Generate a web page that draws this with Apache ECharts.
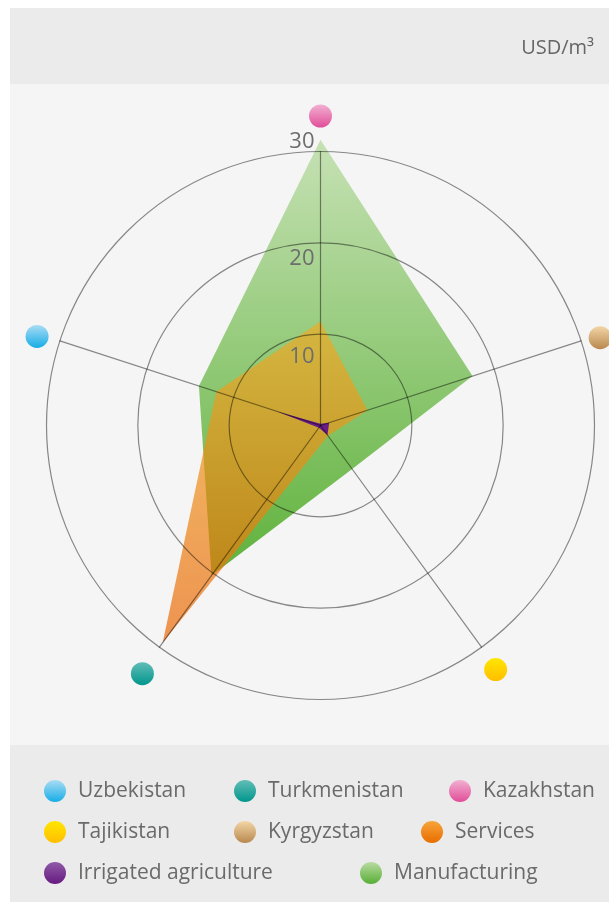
<!DOCTYPE html>
<html>
<head>
<meta charset="utf-8">
<title>USD/m³</title>
<script src="https://cdn.jsdelivr.net/npm/echarts@6/dist/echarts.min.js"></script>
<style>
    html, body { margin: 0; padding: 0; background: #ffffff; }
    #wrap { position: relative; width: 609px; height: 902px; }
    .band { position: absolute; left: 10px; width: 599px; }
    #bandTop { top: 8px; height: 76px; background: #ebebeb; }
    #bandMid { top: 84px; height: 661px; background: #f5f5f5; }
    #bandBot { top: 745px; height: 157px; background: #ebebeb; }
    #chart { position: absolute; left: 0; top: 0; width: 609px; height: 902px; }
</style>
</head>
<body>
<div id="wrap">
    <div class="band" id="bandTop"></div>
    <div class="band" id="bandMid"></div>
    <div class="band" id="bandBot"></div>
    <div id="chart"></div>
</div>
<script>
// 指标（从顶部开始逆时针）
const countries = ['Kazakhstan', 'Uzbekistan', 'Turkmenistan', 'Tajikistan', 'Kyrgyzstan'];
const axisMax = 30;
const axisTicks = [10, 20, 30];

// 各部门用水产值 USD/m³
const manufacturing = [31.3, 14.0, 20.3, 5.9, 17.5];
const services = [11.4, 12.0, 29.4, 1.4, 5.4];
const irrigatedAgriculture = [0.2, 5.0, 0.3, 1.3, 1.0];

// 图例顺序
const legendNames = ['Uzbekistan', 'Turkmenistan', 'Kazakhstan', 'Tajikistan', 'Kyrgyzstan', 'Services', 'Irrigated agriculture', 'Manufacturing'];

const FONT = '"Open Sans", "Noto Sans", sans-serif';

function vGrad(top, bottom) {
    return {
        type: 'linear', x: 0, y: 0, x2: 0, y2: 1,
        colorStops: [
            { offset: 0, color: top },
            { offset: 1, color: bottom }
        ]
    };
}

const dotColors = {
    'Uzbekistan': vGrad('#aadcf4', '#16ade6'),
    'Turkmenistan': vGrad('#62bdb7', '#00968c'),
    'Kazakhstan': vGrad('#f2b0d2', '#e04e98'),
    'Tajikistan': vGrad('#ffe600', '#ffbe00'),
    'Kyrgyzstan': vGrad('#f3d6a6', '#b8884e'),
    'Services': vGrad('#f6a53a', '#e96d00'),
    'Irrigated agriculture': vGrad('#905aa8', '#661a80'),
    'Manufacturing': vGrad('#b8dca2', '#58ae36')
};

// 轴端圆点与外圈的距离（与 countries 顺序一致）
const nameGaps = [38.5, 24, 29, 24, 20];

// 图例位置（每项单独一个 legend）
const legendPos = [
    [44, 780], [234, 780], [449, 780],
    [44, 821], [234, 821], [421, 821],
    [44, 862], [360, 862]
];

const chart = echarts.init(document.getElementById('chart'));

const dotRich = {};
countries.forEach((c, i) => {
    dotRich['c' + i] = {
        width: 23,
        height: 23,
        borderRadius: 11.5,
        backgroundColor: dotColors[c],
        fontSize: 1
    };
});

const tickRich = {
    t10: { fontSize: 22, color: '#6d6d6d', fontFamily: FONT, padding: [46, 0, 0, 0] },
    t20: { fontSize: 22, color: '#6d6d6d', fontFamily: FONT, padding: [32, 0, 0, 0] },
    t30: { fontSize: 22, color: '#6d6d6d', fontFamily: FONT, padding: [0, 0, 20, 0] }
};

const indicator = countries.map((name, i) => {
    const item = { name: name, min: 0, max: axisMax, nameGap: nameGaps[i] };
    if (i === 0) {
        item.axisLabel = {
            show: true,
            margin: 6,
            formatter: function(value) {
                return axisTicks.indexOf(value) >= 0 ? '{t' + value + '|' + value + '}' : '';
            },
            rich: tickRich
        };
    }
    return item;
});

// 国家图例占位项（无数值，仅用于图例）
const countryItems = countries.map(name => ({
    name: name,
    value: countries.map(() => '-'),
    itemStyle: { color: dotColors[name] },
    lineStyle: { width: 0 }
}));

const option = {
    animation: false,
    title: {
        text: 'USD/m³',
        right: 10,
        top: 33,
        textStyle: { fontSize: 20, fontWeight: 'normal', color: '#666666', fontFamily: FONT }
    },
    legend: legendNames.map((name, i) => ({
        data: [name],
        left: legendPos[i][0],
        top: legendPos[i][1],
        padding: 0,
        icon: 'circle',
        itemWidth: 22,
        itemHeight: 22,
        selectedMode: false,
        textStyle: { fontSize: 21, color: '#6a6a6a', fontFamily: FONT, padding: [0, 0, 0, 7] }
    })),
    radar: {
        z: 3,
        center: [320.5, 425.5],
        radius: 274,
        startAngle: 90,
        splitNumber: 3,
        shape: 'circle',
        indicator: indicator,
        axisName: {
            align: 'center',
            verticalAlign: 'middle',
            padding: [6, 0, 0, 0],
            formatter: function(name) {
                return '{c' + countries.indexOf(name) + '| }';
            },
            rich: dotRich
        },
        splitArea: { show: false },
        splitLine: { lineStyle: { color: 'rgba(0,0,0,0.45)', width: 1.2 } },
        axisLine: { lineStyle: { color: 'rgba(0,0,0,0.45)', width: 1.2 } },
        axisTick: { show: false },
        axisLabel: { show: false }
    },
    series: [{
        type: 'radar',
        z: 2,
        symbol: 'none',
        lineStyle: { width: 0 },
        data: countryItems.concat([
            {
                name: 'Manufacturing',
                value: manufacturing,
                itemStyle: { color: dotColors['Manufacturing'] },
                lineStyle: { width: 0 },
                areaStyle: { opacity: 1, color: vGrad('#c6e1b4', '#5fb23c') }
            },
            {
                name: 'Services',
                value: services,
                itemStyle: { color: dotColors['Services'] },
                lineStyle: { width: 0 },
                areaStyle: { opacity: 1, color: vGrad('rgba(240,172,34,0.68)', 'rgba(234,100,2,0.68)') }
            },
            {
                name: 'Irrigated agriculture',
                value: irrigatedAgriculture,
                itemStyle: { color: dotColors['Irrigated agriculture'] },
                lineStyle: { width: 0 },
                areaStyle: { opacity: 1, color: '#6a1b86' }
            }
        ])
    }]
};

chart.setOption(option);
</script>
</body>
</html>
